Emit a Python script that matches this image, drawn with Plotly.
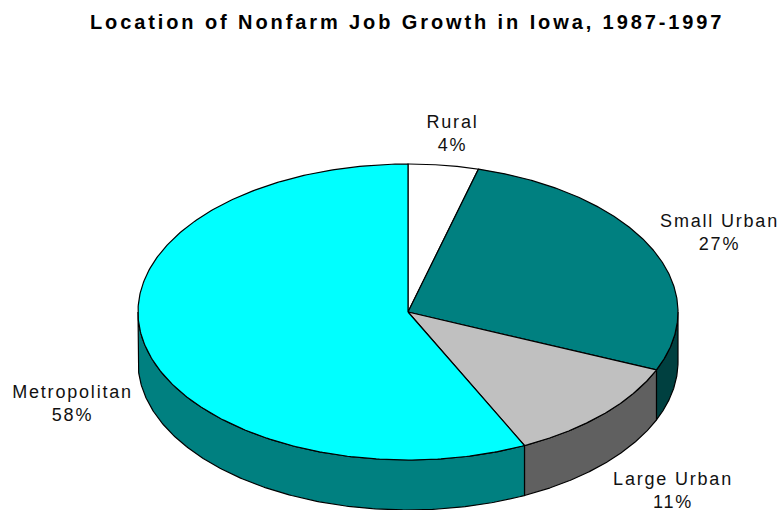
import numpy as np
import plotly.graph_objects as go

TITLE = "Location of Nonfarm Job Growth in Iowa, 1987-1997"
categories = ["Rural", "Small Urban", "Large Urban", "Metropolitan"]
percent_labels = ["4%", "27%", "11%", "58%"]
# slice sizes (the printed labels are rounded)
slice_values = [4.2, 27.2, 11.5, 57.1]
top_colors = ["#FFFFFF", "#008080", "#C0C0C0", "#00FFFF"]
side_colors = ["#808080", "#004040", "#606060", "#008080"]
label_x = [452, 719, 673, 72]
label_y = [133, 232, 490, 403]

W, H = 782, 510
CX, CY, RX, RY, DEPTH = 408, 312, 270, 148, 50


def ell(a):
    return CX + RX * np.sin(a), CY - RY * np.cos(a)


fig = go.Figure()
line = dict(color="black", width=1.2)
edges = np.cumsum([0] + slice_values) / sum(slice_values) * 2 * np.pi

# side walls: only the part of each slice facing the viewer
for i in range(len(slice_values)):
    a0 = max(edges[i], np.pi / 2)
    a1 = min(edges[i + 1], 3 * np.pi / 2)
    if a1 <= a0:
        continue
    t = np.linspace(a0, a1, 200)
    x, y = ell(t)
    fig.add_trace(go.Scatter(
        x=np.r_[x, x[::-1], x[0]], y=np.r_[y, y[::-1] + DEPTH, y[0]],
        mode="lines", fill="toself", fillcolor=side_colors[i], line=line,
        hoverinfo="skip", showlegend=False))

# top faces
for i in range(len(slice_values)):
    t = np.linspace(edges[i], edges[i + 1], 300)
    x, y = ell(t)
    fig.add_trace(go.Scatter(
        x=np.r_[CX, x, CX], y=np.r_[CY, y, CY],
        mode="lines", fill="toself", fillcolor=top_colors[i], line=line,
        hoverinfo="skip", showlegend=False))

for name, pct, lx, ly in zip(categories, percent_labels, label_x, label_y):
    fig.add_annotation(x=lx, y=ly, text=f"{name}<br>{pct}", showarrow=False,
                       font=dict(family="Liberation Sans", size=18, color="#111111"),
                       align="center", xanchor="center", yanchor="middle")

fig.add_annotation(x=407, y=22, text=f"<b>{TITLE}</b>", showarrow=False,
                   font=dict(family="Liberation Sans", size=20, color="black"),
                   xanchor="center", yanchor="middle")

fig.update_layout(
    width=W, height=H, margin=dict(l=0, r=0, t=0, b=0),
    paper_bgcolor="white", plot_bgcolor="white",
    xaxis=dict(range=[0, W], visible=False, fixedrange=True),
    yaxis=dict(range=[H, 0], visible=False, fixedrange=True),
)

post = """
document.body.style.margin = '0';
document.documentElement.style.overflow = 'hidden';
var notes = document.querySelectorAll('.annotation-text');
notes.forEach(function(t, i){
  t.style.letterSpacing = (i === notes.length - 1) ? '2.9px' : '1.8px';
});
"""
fig.write_html("out.html", post_script=post, config={"displayModeBar": False})
